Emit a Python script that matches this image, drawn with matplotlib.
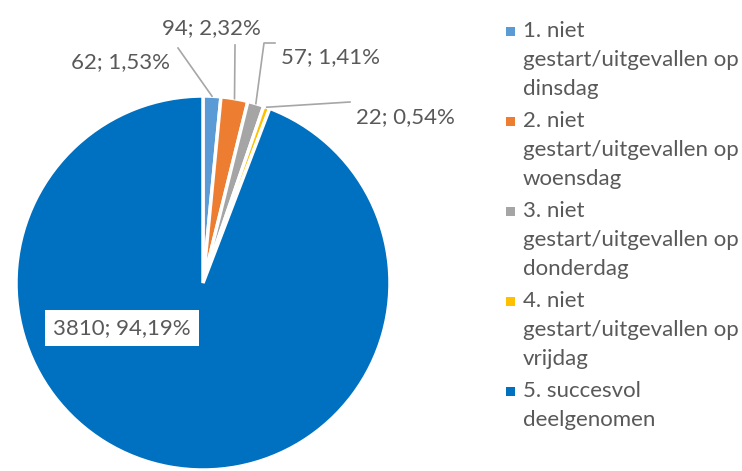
import matplotlib.pyplot as plt
import numpy as np
from matplotlib.patches import Rectangle

categories = [
    '1. niet\ngestart/uitgevallen op\ndinsdag',
    '2. niet\ngestart/uitgevallen op\nwoensdag',
    '3. niet\ngestart/uitgevallen op\ndonderdag',
    '4. niet\ngestart/uitgevallen op\nvrijdag',
    '5. succesvol\ndeelgenomen',
]
counts = [62, 94, 57, 22, 3810]
colors = ['#5B9BD5', '#ED7D31', '#A5A5A5', '#FFC000', '#0070C0']

plt.rcParams['font.family'] = ['Lato', 'DejaVu Sans']
TXT = '#595959'
FS = 16
W, H = 742, 471

fig = plt.figure(figsize=(W / 100, H / 100), dpi=100)
cx, cy, r = 203, 283, 187
ax = fig.add_axes([(cx - r) / W, (H - cy - r) / H, 2 * r / W, 2 * r / H])

wedges, _ = ax.pie(counts, colors=colors, startangle=90, counterclock=False, radius=1,
                   wedgeprops=dict(edgecolor='white', linewidth=2.5))
ax.set_xlim(-1, 1)
ax.set_ylim(-1, 1)
ax.set_aspect('equal')
ax.axis('off')

total = sum(counts)
labels = ['%d; %s%%' % (c, ('%.2f' % (100 * c / total)).replace('.', ',')) for c in counts]


def px(x, y):
    return ((x - cx) / r, (cy - y) / r)


# label positions (pixels) and leader line start points
label_pos = [(120, 62), (211, 28), (330, 57), (405, 117), (122, 328)]
leader_start = [[(178, 48)], [(235, 45)], [(275, 43), (264, 43)], [(350, 102)], None]

for i, w in enumerate(wedges):
    lx, ly = px(*label_pos[i])
    if i == 4:
        ax.text(lx, ly, labels[i], fontsize=FS, color=TXT, ha='center', va='center',
                bbox=dict(facecolor='white', edgecolor='none', pad=6))
        continue
    ax.text(lx, ly, labels[i], fontsize=FS, color=TXT, ha='center', va='center', clip_on=False)
    mid = np.deg2rad((w.theta1 + w.theta2) / 2)
    pts = [px(*p) for p in leader_start[i]] + [(np.cos(mid), np.sin(mid))]
    xs, ys = zip(*pts)
    ax.plot(xs, ys, color='#A6A6A6', lw=1.2, clip_on=False)

# legend drawn by hand so the marker sits on the first line
line_h = 29
y = 31
for cat, col in zip(categories, colors):
    fig.add_artist(Rectangle((506 / W, 1 - (y + 4.5) / H), 9 / W, 9 / H,
                             transform=fig.transFigure, facecolor=col, edgecolor='none'))
    for k, line in enumerate(cat.split('\n')):
        fig.text(523 / W, 1 - (y + k * line_h) / H, line, fontsize=FS, color=TXT,
                 ha='left', va='center')
    y += len(cat.split('\n')) * line_h + 3

fig.savefig('out.png', dpi=100)
